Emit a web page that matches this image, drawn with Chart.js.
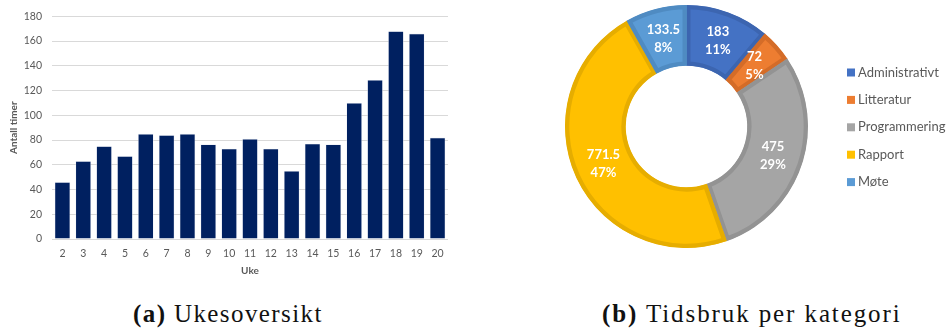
<!DOCTYPE html>
<html>
<head>
<meta charset="utf-8">
<script src="https://cdn.jsdelivr.net/npm/chart.js@4.4.1/dist/chart.umd.min.js"></script>
<style>
  body { margin: 0; background: #fff; width: 950px; height: 331px; position: relative; overflow: hidden; }
  #weekChart { position: absolute; left: 0; top: 0; }
  #categoryChart { position: absolute; left: 540px; top: 0; }
  .caption { position: absolute; top: 301px; font-family: "Liberation Serif", serif; font-size: 25px; line-height: 1; color: #111; white-space: nowrap; }
  .caption b { font-weight: bold; }
</style>
</head>
<body>
<canvas id="weekChart" width="460" height="285"></canvas>
<canvas id="categoryChart" width="410" height="260"></canvas>
<div class="caption" style="left:133px; letter-spacing:1.4px"><b>(a)</b> Ukesoversikt</div>
<div class="caption" style="left:602px; letter-spacing:1.9px"><b>(b)</b> Tidsbruk per kategori</div>
<script>
// timer per uke
const weeks = ['2', '3', '4', '5', '6', '7', '8', '9', '10', '11', '12', '13', '14', '15', '16', '17', '18', '19', '20'];
const hoursPerWeek = [46, 63, 75, 67, 85, 84, 85, 76.5, 73, 81, 73, 55, 77, 76.5, 110, 128.5, 168, 166, 82];

// timer per kategori
const categories = ['Administrativt', 'Litteratur', 'Programmering', 'Rapport', 'Møte'];
const categoryHours = [183, 72, 475, 771.5, 133.5];
const categoryPercent = ['11%', '5%', '29%', '47%', '8%'];
const categoryColors = ['#4472C4', '#ED7D31', '#A5A5A5', '#FFC000', '#5B9BD5'];
const categoryBorders = ['#3C65B0', '#D46C28', '#939393', '#E6AD00', '#4F8BC2'];

const grey = '#595959';
const font = 'Lato, "Open Sans", sans-serif';

new Chart(document.getElementById('weekChart'), {
    type: 'bar',
    data: {
        labels: weeks,
        datasets: [{
            data: hoursPerWeek,
            backgroundColor: '#002060',
            borderColor: 'rgba(230,234,244,0.9)',
            borderWidth: 0.6,
            barPercentage: 0.75,
            categoryPercentage: 1
        }]
    },
    options: {
        responsive: false,
        animation: false,
        layout: { padding: { top: 12, right: 12 } },
        plugins: { legend: { display: false }, tooltip: { enabled: false } },
        scales: {
            x: {
                grid: { display: false, drawTicks: false },
                border: { display: false },
                ticks: { color: grey, font: { family: font, size: 10.5 }, padding: 8 },
                title: { display: true, text: 'Uke', color: grey, font: { family: font, size: 10, weight: 'bold' }, padding: { top: 0, bottom: 8 } },
                afterFit: s => { s.height = 46; }
            },
            y: {
                min: 0,
                max: 180,
                ticks: { stepSize: 20, color: grey, font: { family: font, size: 10.5 }, padding: 10 },
                grid: { color: '#D9D9D9', drawTicks: false },
                border: { display: false },
                title: { display: true, text: 'Antall timer', color: grey, font: { family: font, size: 10, weight: 'bold' }, padding: { top: 8, bottom: 0 } },
                afterFit: s => { s.width = 52; }
            }
        }
    }
});

// verdi og prosent midt i hvert segment
const sliceLabels = {
    id: 'sliceLabels',
    afterDatasetsDraw(chart) {
        const ctx = chart.ctx;
        const arcs = chart.getDatasetMeta(0).data;
        ctx.save();
        ctx.fillStyle = '#fff';
        ctx.font = 'bold 13px ' + font;
        ctx.textAlign = 'center';
        ctx.textBaseline = 'middle';
        arcs.forEach((arc, i) => {
            const p = arc.tooltipPosition();
            ctx.fillText(String(categoryHours[i]), p.x, p.y - 9);
            ctx.fillText(categoryPercent[i], p.x, p.y + 9);
        });
        ctx.restore();
    }
};

// forklaring til høyre for ringen
const sideLegend = {
    id: 'sideLegend',
    afterDraw(chart) {
        const ctx = chart.ctx;
        ctx.save();
        ctx.font = '13px ' + font;
        ctx.textBaseline = 'middle';
        chart.data.labels.forEach((label, i) => {
            const y = 72.5 + i * 27.4;
            ctx.fillStyle = categoryColors[i];
            ctx.fillRect(307, y - 4, 8, 8);
            ctx.fillStyle = grey;
            ctx.fillText(label, 318, y);
        });
        ctx.restore();
    }
};

new Chart(document.getElementById('categoryChart'), {
    type: 'doughnut',
    data: {
        labels: categories,
        datasets: [{
            data: categoryHours,
            backgroundColor: categoryColors,
            borderColor: categoryBorders,
            borderWidth: 4,
            borderAlign: 'inner',
            hoverBorderWidth: 0
        }]
    },
    options: {
        responsive: false,
        animation: false,
        cutout: '50%',
        layout: { padding: { left: 25, right: 142, top: 5, bottom: 12 } },
        plugins: { legend: { display: false }, tooltip: { enabled: false } }
    },
    plugins: [sliceLabels, sideLegend]
});
</script>
</body>
</html>
